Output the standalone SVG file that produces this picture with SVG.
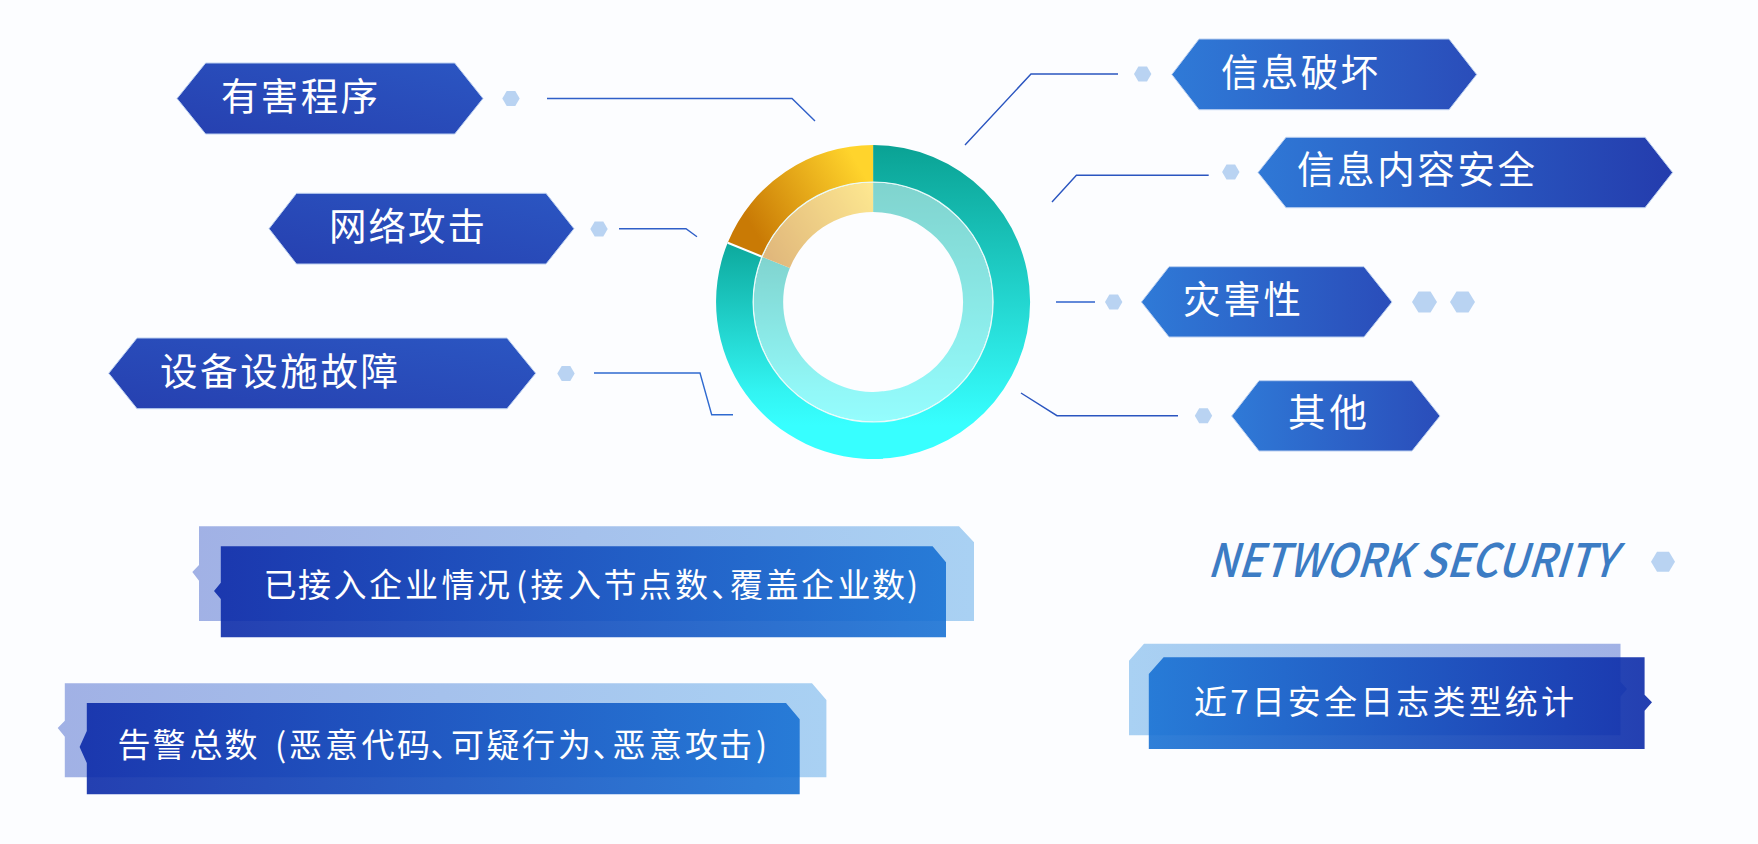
<svg xmlns="http://www.w3.org/2000/svg" width="1758" height="844" viewBox="0 0 1758 844">
<style>
text{font-family:"Noto Sans CJK SC","Noto Sans",sans-serif;fill:#fff}
.h{font-size:37.5px}
.p{font-size:33px}
.dot{fill:#b9d3f2}
.c{fill:none;stroke-width:1.4}
.hx{stroke:#bcd0f0;stroke-width:1}
</style>
<defs>
<linearGradient id="hl" x1="0" y1="1" x2="1" y2="0"><stop offset="0" stop-color="#2640b0"/><stop offset="1" stop-color="#2b56c2"/></linearGradient>
<linearGradient id="hr" x1="0" y1="0" x2="1" y2="0"><stop offset="0" stop-color="#2f7ad7"/><stop offset="1" stop-color="#2a4dba"/></linearGradient>
<linearGradient id="hr2" x1="0" y1="0" x2="1" y2="0"><stop offset="0" stop-color="#2f78d6"/><stop offset="1" stop-color="#243cad"/></linearGradient>
<linearGradient id="backL" x1="0" y1="0" x2="1" y2="0"><stop offset="0" stop-color="#a1b1e5"/><stop offset="1" stop-color="#a9d1f3"/></linearGradient>
<linearGradient id="backR" x1="0" y1="0" x2="1" y2="0"><stop offset="0" stop-color="#a9d1f3"/><stop offset="1" stop-color="#a1b1e5"/></linearGradient>
<linearGradient id="frontL" x1="0" y1="0" x2="1" y2="0"><stop offset="0" stop-color="#0c2aa8"/><stop offset="1" stop-color="#1972d4"/></linearGradient>
<linearGradient id="frontR" x1="0" y1="0" x2="1" y2="0"><stop offset="0" stop-color="#1972d4"/><stop offset="1" stop-color="#0c2aa8"/></linearGradient>
<linearGradient id="tealR" gradientUnits="userSpaceOnUse" x1="873" y1="145" x2="873" y2="425"><stop offset="0" stop-color="#0aa294"/><stop offset="1" stop-color="#37ffff"/></linearGradient>
<linearGradient id="tealL" gradientUnits="userSpaceOnUse" x1="873" y1="240" x2="873" y2="425"><stop offset="0" stop-color="#0ca79b"/><stop offset="0.82" stop-color="#32f4f2"/><stop offset="1" stop-color="#37ffff"/></linearGradient>
<linearGradient id="amber" gradientUnits="userSpaceOnUse" x1="858" y1="165" x2="752" y2="228"><stop offset="0" stop-color="#ffd42c"/><stop offset="1" stop-color="#c97a05"/></linearGradient>
<polygon id="sd" points="-8.7,0 -4.3,-7.5 4.3,-7.5 8.7,0 4.3,7.5 -4.3,7.5"/>
</defs>
<rect width="1758" height="844" fill="#fcfdff"/>

<g id="connectors" class="c">
<polyline class="c" stroke="#2f5fc8" points="547,98.5 792,98.5 815,121"/>
<polyline class="c" stroke="#2f5fc8" points="619,228.7 686,228.7 697,236.7"/>
<polyline class="c" stroke="#2f6ad0" points="594,373 700,373 711.7,414.7 733,414.7"/>
<polyline class="c" stroke="#2a55c0" points="965,145 1031,74 1118,74"/>
<polyline class="c" stroke="#2a55c0" points="1052,202 1076.4,175.3 1208.7,175.3"/>
<polyline class="c" stroke="#2f62cc" points="1056,302 1095,302"/>
<polyline class="c" stroke="#2a55c0" points="1021,393 1057,415.7 1178,415.7"/>
</g>

<g id="donut" transform="translate(0.6 0)">
<path id="ring-outer-right" fill="url(#tealR)" d="M872.5 145A157 157 0 0 1 872.5 459L872.5 422A120 120 0 0 0 872.5 182Z"/>
<path id="ring-outer-left" fill="url(#tealL)" d="M882.5 458.7A157 157 0 0 1 727.1 242.7L761.4 256.7A120 120 0 0 0 882.5 421.6Z"/>
<path id="ring-outer-amber" fill="url(#amber)" d="M872.5 145A157 157 0 0 0 727.1 242.7L761.4 256.7A120 120 0 0 1 872.5 182Z"/>
<circle cx="872.5" cy="302" r="119.5" fill="#fcfdff"/>
<g opacity="0.52">
<path fill="url(#tealR)" d="M872.5 182.5A119.5 119.5 0 0 1 872.5 421.5L872.5 392A90 90 0 0 0 872.5 212Z"/>
<path fill="url(#tealL)" d="M882.5 421.1A119.5 119.5 0 0 1 761.9 256.9L789.2 268A90 90 0 0 0 882.5 391.4Z"/>
<path fill="url(#amber)" d="M872.5 182.5A119.5 119.5 0 0 0 761.9 256.9L789.2 268A90 90 0 0 1 872.5 212Z"/>
</g>
<path fill="none" stroke="#fff" stroke-width="2" d="M727.1 242.7L761.4 256.7"/>
<circle cx="872.5" cy="302" r="120" fill="none" stroke="#e9fbfa" stroke-width="1.2"/>
</g>

<g id="node-youhai"><polygon class="hx" fill="url(#hl)" points="177,98.5 205.6,63 454.7,63 483,98.5 454.7,134 205.6,134"/><text class="h" x="221" y="110" textLength="157">有害程序</text><use href="#sd" class="dot" x="511" y="98.5"/></g>
<g id="node-wangluo"><polygon class="hx" fill="url(#hl)" points="269,228.7 296.5,193.3 546,193.3 574,228.7 546,264 296.5,264"/><text class="h" x="329" y="240" textLength="156">网络攻击</text><use href="#sd" class="dot" x="599" y="229"/></g>
<g id="node-shebei"><polygon class="hx" fill="url(#hl)" points="108.7,373.3 137,338 507,338 535.7,373.3 507,408.7 137,408.7"/><text class="h" x="160" y="385" textLength="238">设备设施故障</text><use href="#sd" class="dot" x="566" y="373.5"/></g>
<g id="node-xinxi"><polygon class="hx" fill="url(#hr)" points="1171.8,74.5 1199,39 1449,39 1476.7,74.5 1449,109.7 1199,109.7"/><text class="h" x="1221" y="86" textLength="157">信息破坏</text><use href="#sd" class="dot" x="1142.7" y="74"/></g>
<g id="node-neirong"><polygon class="hx" fill="url(#hr2)" points="1258,172.5 1286,137.3 1645,137.3 1672.6,172.5 1645,207.7 1286,207.7"/><text class="h" x="1297" y="183" textLength="238">信息内容安全</text><use href="#sd" class="dot" x="1230.8" y="172"/></g>
<g id="node-zaihai"><polygon class="hx" fill="url(#hr)" points="1141.4,302 1169,266.7 1364,266.7 1392,302 1364,337 1169,337"/><text class="h" x="1183" y="313" textLength="118">灾害性</text><use href="#sd" class="dot" x="1113.7" y="302"/><polygon class="dot" points="1412,302 1418.5,291.5 1430.5,291.5 1437,302 1430.5,312.5 1418.5,312.5"/><polygon class="dot" points="1450,302 1456.5,291.5 1468.5,291.5 1475,302 1468.5,312.5 1456.5,312.5"/></g>
<g id="node-qita"><polygon class="hx" fill="url(#hr)" points="1231.6,416 1259,380.7 1412,380.7 1440,416 1412,451 1259,451"/><text class="h" x="1288" y="426" textLength="79">其他</text><use href="#sd" class="dot" x="1203.5" y="415.7"/></g>

<g id="title-en"><text transform="translate(1207 577) skewX(-17)" font-size="46" font-weight="500" style="fill:#3c7cc4" textLength="408" lengthAdjust="spacingAndGlyphs">NETWORK SECURITY</text><polygon class="dot" points="1651,561.7 1657,551.7 1669,551.7 1675,561.7 1669,571.7 1657,571.7"/></g>

<g id="panel-qiye">
<polygon fill="url(#backL)" points="199,526.3 959,526.3 974,542.3 974,621 199,621 199,580.7 192.3,572 199,565"/>
<polygon fill="url(#frontL)" opacity="0.9" points="220.8,546.3 932.6,546.3 946,562.3 946,637.3 220.8,637.3 220.8,599 214,591 220.8,582.7"/>
<text class="p" y="597" x="263.5 298 333.5 369 405 441.5 477 516 530.5 568 603.5 639 675 711 730 765.5 801 837.5 872 907">已接入企业情况(接入节点数、覆盖企业数)</text>
</g>
<g id="panel-gaojing">
<polygon fill="url(#backL)" points="64.8,683.3 812,683.3 826.4,700 826.4,777.3 64.8,777.3 64.8,736.7 57.7,728 64.8,720.7"/>
<polygon fill="url(#frontL)" opacity="0.9" points="86.8,703 786,703 799.7,719.3 799.7,794.3 86.8,794.3 86.8,763 79.6,747 86.8,731"/>
<text class="p" y="757" x="117.5 152.5 189.5 224.5 262 275 289 325 361.5 397 430.5 451 486.5 522 558 592.5 612.5 649 685 719 756">告警总数 (恶意代码、可疑行为、恶意攻击)</text>
</g>
<g id="panel-rizhi">
<polygon fill="url(#backR)" points="1144,643.7 1620.5,643.7 1620.5,681.7 1627,689 1620.5,696.7 1620.5,735.3 1129,735.3 1129,660.7"/>
<polygon fill="url(#frontR)" opacity="0.9" points="1163.6,657.3 1644.6,657.3 1644.6,694.7 1652,702.3 1644.6,710.7 1644.6,749 1148.8,749 1148.8,674"/>
<text class="p" x="1194" y="714" textLength="380">近7日安全日志类型统计</text>
</g>
</svg>
